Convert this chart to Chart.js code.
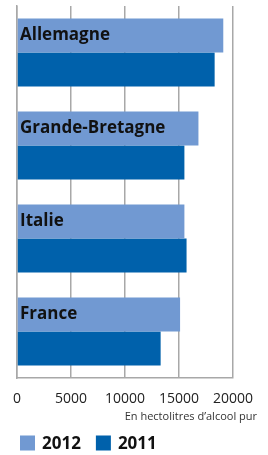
<!DOCTYPE html>
<html lang="fr">
<head>
  <meta charset="UTF-8">
  <title>Alcool</title>
  <script src="https://cdn.jsdelivr.net/npm/chart.js"></script>
  <style>
    body {
      margin: 0;
      background-color: #fff;
    }
    canvas {
      display: block;
    }
  </style>
</head>
<body>
  <canvas id="alcoolChart" width="268" height="455"></canvas>

  <script>
    // Données
    const categories = ['Allemagne', 'Grande-Bretagne', 'Italie', 'France'];
    const values2012 = [19100, 16800, 15500, 15100];
    const values2011 = [18300, 15500, 15700, 13300];
    const xMin = 0;
    const xMax = 20000;
    const xStep = 5000;
    const unitNote = 'En hectolitres d\u2019alcool pur';

    const color2012 = '#7199d2';
    const color2011 = '#0061ab';

    // Libellés dans les barres + note d'unité + légende
    const extrasPlugin = {
      id: 'extras',
      afterDatasetsDraw(chart) {
        const ctx = chart.ctx;
        const meta = chart.getDatasetMeta(0);
        ctx.save();
        ctx.font = "bold 17px 'Open Sans', sans-serif";
        ctx.fillStyle = '#111';
        ctx.textAlign = 'left';
        ctx.textBaseline = 'middle';
        meta.data.forEach((bar, i) => {
          ctx.fillText(categories[i], chart.chartArea.left + 3, bar.y);
        });
        ctx.restore();
      },
      afterDraw(chart) {
        const ctx = chart.ctx;
        ctx.save();
        ctx.font = "11px 'Open Sans', sans-serif";
        ctx.fillStyle = '#333';
        ctx.textAlign = 'right';
        ctx.textBaseline = 'middle';
        ctx.fillText(unitNote, 257, 417);

        let x = 20;
        const y = 443;
        ctx.font = "bold 17px 'Open Sans', sans-serif";
        ctx.textAlign = 'left';
        chart.data.datasets.forEach(ds => {
          ctx.fillStyle = ds.backgroundColor;
          ctx.fillRect(x, y - 7.5, 15, 15);
          ctx.fillStyle = '#111';
          ctx.fillText(ds.label, x + 22, y + 1);
          x += 22 + ctx.measureText(ds.label).width + 15;
        });
        ctx.restore();
      }
    };

    Chart.defaults.font.family = "'Open Sans', sans-serif";

    const ctxAlcool = document.getElementById('alcoolChart').getContext('2d');
    const alcoolChart = new Chart(ctxAlcool, {
      type: 'bar',
      data: {
        labels: categories,
        datasets: [
          {
            label: '2012',
            data: values2012,
            backgroundColor: color2012,
            categoryPercentage: 0.73,
            barPercentage: 1
          },
          {
            label: '2011',
            data: values2011,
            backgroundColor: color2011,
            categoryPercentage: 0.73,
            barPercentage: 1
          }
        ]
      },
      options: {
        indexAxis: 'y',
        responsive: false,
        animation: false,
        layout: {
          padding: { top: 6, left: 4, right: 35, bottom: 0 }
        },
        plugins: {
          legend: { display: false },
          tooltip: { enabled: false }
        },
        scales: {
          x: {
            min: xMin,
            max: xMax,
            afterFit(scale) {
              scale.height = 77;
            },
            ticks: {
              stepSize: xStep,
              padding: 13,
              color: '#222',
              font: { size: 14 },
              maxRotation: 0,
              autoSkip: false,
              callback: v => String(v)
            },
            grid: {
              color: '#a8a8a8',
              lineWidth: 1.5,
              drawTicks: false,
              tickLength: 0
            },
            border: { color: '#a8a8a8', width: 1.5 }
          },
          y: {
            ticks: { display: false },
            grid: { display: false },
            border: { color: '#a8a8a8', width: 1.5 }
          }
        }
      },
      plugins: [extrasPlugin]
    });
  </script>
</body>
</html>
